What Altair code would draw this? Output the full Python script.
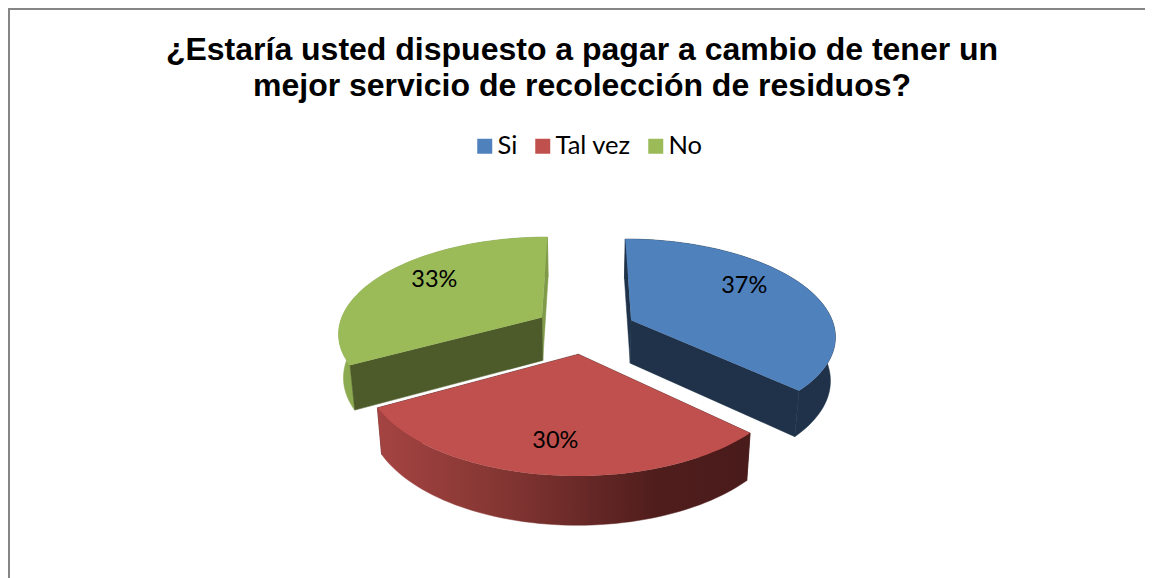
import math
import altair as alt
import pandas as pd

# --- chart values -------------------------------------------------------
categories = ["Si", "Tal vez", "No"]
shares = [37, 30, 33]
top_colors = ["#4f81bd", "#c0504d", "#9bbb59"]
title_lines = ["¿Estaría usted dispuesto a pagar a cambio de tener un",
               "mejor servicio de recolección de residuos?"]

# --- tilted-pie projection ----------------------------------------------
VX, VY, A, B, K, EXPLODE = 585.0, 329.5, 204.0, 95.7, 0.148, 0.25
W, H = 1137, 570


def project(u, t):
    s = 1 / (1 + K * t)
    return VX + A * u * s, VY - B * t * s


def lower(p):
    x, y = p
    return VX + (x - VX) * 0.98, y + 43 + (y - 320) * 0.04


def slices():
    out = []
    start = 0.0
    total = sum(shares)
    for name, v in zip(categories, shares):
        end = start + 360 * v / total
        mid = math.radians((start + end) / 2)
        u0, t0 = EXPLODE * math.sin(mid), EXPLODE * math.cos(mid)
        n = 60
        rim = []
        for i in range(n + 1):
            th = math.radians(start + (end - start) * i / n)
            rim.append(project(u0 + math.sin(th), t0 + math.cos(th)))
        out.append(dict(name=name, apex=project(u0, t0), rim=rim, u0=u0, t0=t0,
                        mid=(start + end) / 2))
        start = end
    return out


S = slices()
X = alt.X("x:Q", axis=None, scale=alt.Scale(domain=[8, 8 + W], range=[0, W], nice=False, zero=False))
Y = alt.Y("y:Q", axis=None, scale=alt.Scale(domain=[8 + H, 8], range=[H, 0], nice=False, zero=False))


def frame(points, name=""):
    pts = list(points) + [points[0]]
    return pd.DataFrame({"x": [p[0] for p in pts], "y": [p[1] for p in pts],
                         "i": range(len(pts)), "serie": name})


def poly(points, fill):
    return alt.Chart(frame(points)).mark_line(fill=fill, stroke=fill, strokeWidth=0.5, interpolate="linear").encode(
        x=X, y=Y, order="i:Q")


def hgrad(*stops):
    return {"gradient": "linear", "x1": 0, "x2": 1, "y1": 0, "y2": 0,
            "stops": [{"offset": o, "color": c} for o, c in stops]}


NAVY, OLIVE_DARK, OLIVE_MID, MAROON = "#1f3249", "#4d5a29", "#7f9b49", "#4a1b1b"
outer_fill = {
    "Si": NAVY,
    "Tal vez": hgrad((0, "#a54442"), (0.35, "#823532"), (0.75, "#4f1d1c"), (1, MAROON)),
    "No": hgrad((0, "#8dab50"), (1, OLIVE_MID)),
}
start_fill = {"Si": NAVY, "Tal vez": MAROON, "No": OLIVE_DARK}
end_fill = {"Si": NAVY, "Tal vez": MAROON, "No": OLIVE_MID}
# which straight wall faces the viewer (drawn over the curved wall)
front_wall = {"Si": "end", "Tal vez": None, "No": "start"}

layers = []
for key in ["No", "Si", "Tal vez"]:
    sl = next(s for s in S if s["name"] == key)
    apex, rim = sl["apex"], sl["rim"]
    w_start = poly([apex, rim[0], lower(rim[0]), lower(apex)], start_fill[key])
    w_end = poly([apex, rim[-1], lower(rim[-1]), lower(apex)], end_fill[key])
    w_outer = poly(rim + [lower(p) for p in reversed(rim)], outer_fill[key])
    if front_wall[key] == "start":
        layers += [w_end, w_outer, w_start]
    elif front_wall[key] == "end":
        layers += [w_start, w_outer, w_end]
    else:
        layers += [w_start, w_end, w_outer]

tops = pd.concat([frame([s["apex"]] + s["rim"], s["name"]) for s in S])
layers.append(
    alt.Chart(tops).mark_line(strokeWidth=0).encode(
        x=X, y=Y, order="i:Q",
        fill=alt.Fill("serie:N",
                      scale=alt.Scale(domain=categories, range=top_colors),
                      legend=alt.Legend(orient="none", legendX=464, legendY=125.5, direction="horizontal",
                                        columns=3, title=None, symbolType="square", symbolSize=225,
                                        symbolStrokeWidth=0, labelFont="Lato", labelFontSize=25.5,
                                        labelColor="#000000", columnPadding=12, labelOffset=0,
                                        gridAlign="none", padding=0)),
    )
)

# percentage labels placed on each slice's top face
label_turn = {"Si": -11, "Tal vez": 0, "No": 7}
lab = []
for s, v in zip(S, shares):
    th = math.radians(s["mid"] + label_turn[s["name"]])
    x, y = project(s["u0"] + 0.74 * math.sin(th), s["t0"] + 0.74 * math.cos(th))
    lab.append({"x": x, "y": y, "label": f"{v}%"})
layers.append(
    alt.Chart(pd.DataFrame(lab)).mark_text(font="Lato", fontSize=23.5, color="#000000", align="center",
                                           baseline="middle", dy=2).encode(x=X, y=Y, text="label:N")
)

# frame of the picture
fr = pd.DataFrame({"a": [0]})
layers.append(alt.Chart(fr).mark_rule(color="#868686", strokeWidth=2).encode(
    x=alt.value(0), x2=alt.value(W), y=alt.value(1)))
layers.append(alt.Chart(fr).mark_rule(color="#868686", strokeWidth=2).encode(
    x=alt.value(1), y=alt.value(0), y2=alt.value(H)))

chart = alt.layer(*layers).properties(
    width=W, height=H, padding=0,
    autosize=alt.AutoSizeParams(type="none"),
    background="white",
    title=alt.TitleParams(text=title_lines, font="Liberation Sans", fontWeight="bold", fontSize=32,
                          color="#000000", lineHeight=36, anchor="start", align="center",
                          baseline="top", offset=-95.5, dx=575),
).configure_view(stroke=None)

chart.save("out.html", embed_options={"renderer": "svg", "actions": False})
